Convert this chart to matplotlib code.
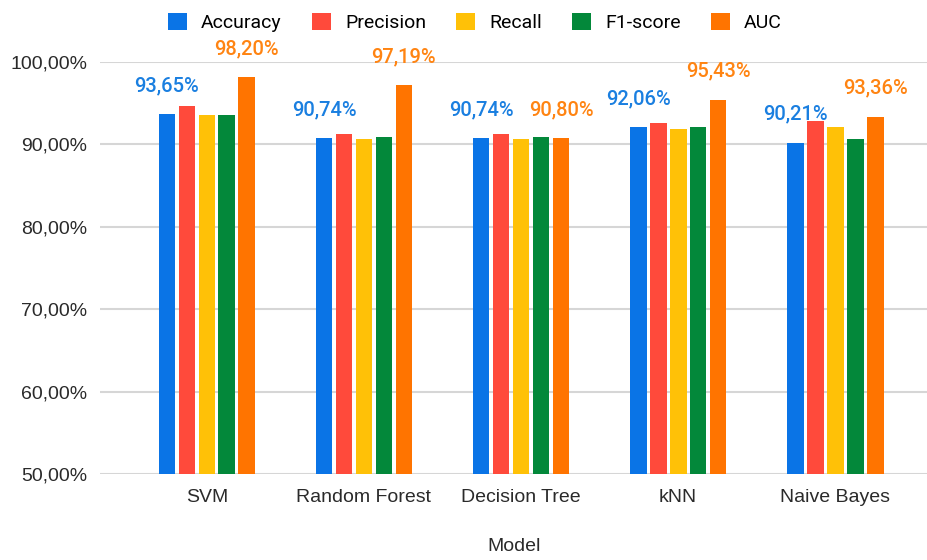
import numpy as np
import matplotlib
matplotlib.use('Agg')
import matplotlib.pyplot as plt
from matplotlib.patches import Patch

models = ['SVM', 'Random Forest', 'Decision Tree', 'kNN', 'Naive Bayes']
metrics = ['Accuracy', 'Precision', 'Recall', 'F1-score', 'AUC']

accuracy = [93.65, 90.74, 90.74, 92.06, 90.21]
precision = [94.65, 91.24, 91.24, 92.65, 92.80]
recall = [93.62, 90.70, 90.70, 91.90, 92.06]
f1_score = [93.62, 90.88, 90.88, 92.06, 90.70]
auc = [98.20, 97.19, 90.80, 95.43, 93.36]

colors = ['#0a74e6', '#ff4a3b', '#ffc107', '#03883a', '#ff7400']
label_colors = {'Accuracy': '#1a7fe0', 'AUC': '#ff8412'}

series = [accuracy, precision, recall, f1_score, auc]

fig = plt.figure(figsize=(9.28, 5.6), dpi=100)
ax = fig.add_axes([100 / 928, 86 / 560, 828 / 928, 412 / 560])

x = np.arange(len(models))
step = 0.127
width = 0.106

for i, (name, vals) in enumerate(zip(metrics, series)):
    pos = x + (i - 2) * step
    ax.bar(pos, vals, width=width, color=colors[i], zorder=3, label=name)
    if name in label_colors:
        for p, v in zip(pos, vals):
            ax.annotate(f'{v:.2f}%'.replace('.', ','), (p, v),
                        xytext=(0, 16.5), textcoords='offset points',
                        ha='center', va='baseline', fontsize=14.5,
                        family='Roboto', fontweight='medium',
                        color=label_colors[name], annotation_clip=False)

ticks = np.arange(50, 101, 10)
ax.set_ylim(50, 100)
ax.set_xlim(-0.68, 4.59)
ax.set_yticks(ticks)
ax.set_yticklabels([f'{t:.2f}%'.replace('.', ',') for t in ticks],
                   family='Liberation Sans', fontsize=14, color='#2a2a2a')
ax.set_xticks(x)
ax.set_xticklabels(models, family='Liberation Sans', fontsize=14, color='#2a2a2a')
ax.tick_params(axis='both', length=0)
ax.tick_params(axis='y', pad=9)
ax.tick_params(axis='x', pad=11)
ax.grid(axis='y', color='#d6d6d6', linewidth=1.5, zorder=0)
for s in ax.spines.values():
    s.set_visible(False)

ax.set_xlabel('Model', family='Liberation Sans', fontsize=14, color='#2a2a2a', labelpad=23)

handles = [Patch(facecolor=c, label=m) for c, m in zip(colors, metrics)]
fig.legend(handles=handles, loc='upper center', bbox_to_anchor=(0.512, 1.0),
           ncol=5, frameon=False, prop={'family': 'Roboto', 'size': 14},
           handlelength=0.98, handleheight=0.98, handletextpad=0.72,
           columnspacing=1.55, borderaxespad=0.25)

fig.savefig('out.png', dpi=100)
